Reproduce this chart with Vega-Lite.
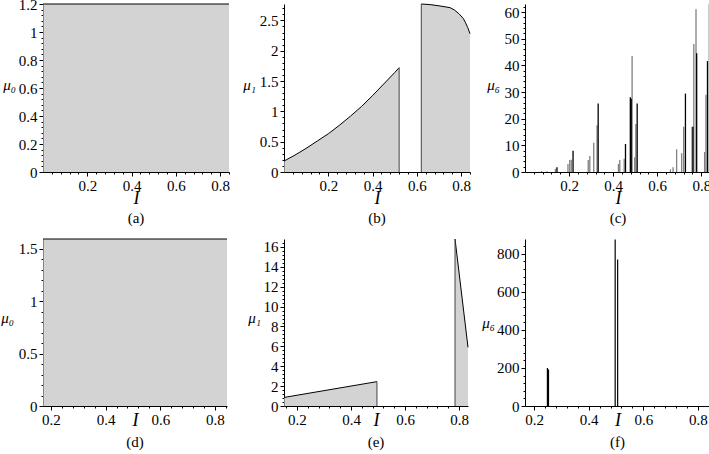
{
  "$schema": "https://vega.github.io/schema/vega-lite/v6.json",
  "background": "white",
  "padding": {"top": -3, "left": 0, "right": 0, "bottom": 0},
  "bounds": "flush",
  "columns": 3,
  "spacing": {"row": 67, "column": 55},
  "config": {
    "view": {"stroke": null},
    "axis": {"labelFont": "Liberation Serif", "labelFontSize": 15, "labelColor": "black", "domainColor": "black", "tickColor": "black", "grid": false, "titleFont": "Liberation Serif", "titleColor": "black", "titleFontWeight": "normal", "domainWidth": 1, "tickWidth": 1, "labelPadding": 2, "labelFlush": false, "labelOverlap": false},
    "title": {"font": "Liberation Serif", "fontSize": 15, "fontWeight": "normal", "color": "black", "orient": "bottom", "anchor": "middle", "offset": 0}
  },
  "datasets": {
    "a": [{"I": 0, "mu": 1.2}, {"I": 0.84, "mu": 1.2}],
    "bTop": [
      {"I": 0, "mu": 0.18, "seg": "L"}, {"I": 0.05, "mu": 0.28, "seg": "L"}, {"I": 0.1, "mu": 0.39, "seg": "L"}, {"I": 0.15, "mu": 0.51, "seg": "L"}, {"I": 0.2, "mu": 0.63, "seg": "L"}, {"I": 0.25, "mu": 0.77, "seg": "L"}, {"I": 0.3, "mu": 0.92, "seg": "L"}, {"I": 0.35, "mu": 1.08, "seg": "L"}, {"I": 0.4, "mu": 1.26, "seg": "L"}, {"I": 0.45, "mu": 1.45, "seg": "L"}, {"I": 0.5, "mu": 1.64, "seg": "L"}, {"I": 0.52, "mu": 1.72, "seg": "L"},
      {"I": 0.62, "mu": 2.77, "seg": "R"}, {"I": 0.66, "mu": 2.76, "seg": "R"}, {"I": 0.7, "mu": 2.74, "seg": "R"}, {"I": 0.75, "mu": 2.71, "seg": "R"}, {"I": 0.77, "mu": 2.67, "seg": "R"}, {"I": 0.79, "mu": 2.61, "seg": "R"}, {"I": 0.81, "mu": 2.53, "seg": "R"}, {"I": 0.82, "mu": 2.46, "seg": "R"}, {"I": 0.83, "mu": 2.38, "seg": "R"}, {"I": 0.84, "mu": 2.28, "seg": "R"}
    ],
    "bEdge": [{"I": 0.52, "mu": 1.72}, {"I": 0.62, "mu": 2.77}],
    "c": [
      {"I": 0.075, "mu": 0.4, "c": "g"}, {"I": 0.1, "mu": 0.3, "c": "g"}, {"I": 0.138, "mu": 1.2, "c": "g"}, {"I": 0.195, "mu": 3.0, "c": "g"}, {"I": 0.203, "mu": 4.5, "c": "g"}, {"I": 0.21, "mu": 4.6, "c": "g"},
      {"I": 0.287, "mu": 4.5, "c": "g"}, {"I": 0.294, "mu": 6.0, "c": "g"}, {"I": 0.312, "mu": 11.0, "c": "g"}, {"I": 0.327, "mu": 17.5, "c": "g"}, {"I": 0.424, "mu": 3.0, "c": "g"}, {"I": 0.43, "mu": 4.5, "c": "g"}, {"I": 0.45, "mu": 5.0, "c": "g"},
      {"I": 0.486, "mu": 43.5, "c": "g"}, {"I": 0.498, "mu": 5.5, "c": "g"}, {"I": 0.503, "mu": 18.0, "c": "g"}, {"I": 0.66, "mu": 1.0, "c": "g"}, {"I": 0.672, "mu": 1.8, "c": "g"}, {"I": 0.688, "mu": 8.5, "c": "g"},
      {"I": 0.711, "mu": 7.0, "c": "g"}, {"I": 0.72, "mu": 17.0, "c": "g"}, {"I": 0.758, "mu": 17.0, "c": "g"}, {"I": 0.766, "mu": 48.0, "c": "g"}, {"I": 0.776, "mu": 61.0, "c": "g"}, {"I": 0.815, "mu": 7.5, "c": "g"}, {"I": 0.821, "mu": 29.0, "c": "g"}, {"I": 0.836, "mu": 63.0, "c": "g"},
      {"I": 0.145, "mu": 1.8, "c": "k"}, {"I": 0.218, "mu": 8.0, "c": "k"}, {"I": 0.332, "mu": 25.7, "c": "k"}, {"I": 0.456, "mu": 10.5, "c": "k"}, {"I": 0.478, "mu": 28.0, "c": "k"}, {"I": 0.482, "mu": 27.5, "c": "k"}, {"I": 0.509, "mu": 25.7, "c": "k"},
      {"I": 0.728, "mu": 29.4, "c": "k"}, {"I": 0.762, "mu": 17.0, "c": "k"}, {"I": 0.779, "mu": 44.5, "c": "k"}, {"I": 0.828, "mu": 41.6, "c": "k"}, {"I": 0.842, "mu": 55.0, "c": "k"}
    ],
    "d": [{"I": 0.171, "mu": 1.595}, {"I": 0.844, "mu": 1.595}],
    "eTop": [{"I": 0.152, "mu": 0.86, "seg": "L"}, {"I": 0.496, "mu": 2.45, "seg": "L"}, {"I": 0.785, "mu": 16.8, "seg": "R"}, {"I": 0.833, "mu": 5.9, "seg": "R"}],
    "eEdge": [{"I": 0.496, "mu": 2.45}, {"I": 0.785, "mu": 16.8}],
    "f": [{"I": 0.249, "mu": 200}, {"I": 0.251, "mu": 195}, {"I": 0.253, "mu": 190}, {"I": 0.497, "mu": 875}, {"I": 0.506, "mu": 770}]
  },
  "concat": [
    {
      "width": 186, "height": 168,
      "title": {"text": "(a)"},
      "data": {"name": "a"},
      "mark": {"type": "area", "color": "#c0c0c0", "line": {"color": "black", "strokeWidth": 1}},
      "encoding": {
        "x": {"field": "I", "type": "quantitative", "scale": {"domain": [0, 0.84], "nice": false, "zero": false},
              "axis": {"values": [0.04, 0.08, 0.12, 0.16, 0.2, 0.24, 0.28, 0.32, 0.36, 0.4, 0.44, 0.48, 0.52, 0.56, 0.6, 0.64, 0.68, 0.72, 0.76, 0.8, 0.84], "labelExpr": "abs(datum.value/0.2 - round(datum.value/0.2)) < 0.001 ? format(datum.value, '~g') : ''", "tickSize": {"condition": {"test": "abs(datum.value/0.2 - round(datum.value/0.2)) < 0.001", "value": 4}, "value": 2}, "title": "I", "titleFontStyle": "italic", "titleFontSize": 18, "titleY": 31, "titleBaseline": "alphabetic"}},
        "y": {"field": "mu", "type": "quantitative", "scale": {"domain": [0, 1.2], "nice": false},
              "axis": {"values": [0, 0.04, 0.08, 0.12, 0.16, 0.2, 0.24, 0.28, 0.32, 0.36, 0.4, 0.44, 0.48, 0.52, 0.56, 0.6, 0.64, 0.68, 0.72, 0.76, 0.8, 0.84, 0.88, 0.92, 0.96, 1, 1.04, 1.08, 1.12, 1.16, 1.2], "labelExpr": "abs(datum.value/0.2 - round(datum.value/0.2)) < 0.001 ? format(datum.value, '~g') : ''", "tickSize": {"condition": {"test": "abs(datum.value/0.2 - round(datum.value/0.2)) < 0.001", "value": 4}, "value": 2}, "title": "μ₀", "titleAngle": 0, "titleX": -34, "titleY": 80, "titleAlign": "center", "titleBaseline": "middle", "titleFontSize": 15, "titleFontStyle": "italic"}}
      }
    },
    {
      "width": 186, "height": 168,
      "title": {"text": "(b)"},
      "encoding": {
        "x": {"field": "I", "type": "quantitative", "scale": {"domain": [0, 0.84], "nice": false, "zero": false},
              "axis": {"values": [0.04, 0.08, 0.12, 0.16, 0.2, 0.24, 0.28, 0.32, 0.36, 0.4, 0.44, 0.48, 0.52, 0.56, 0.6, 0.64, 0.68, 0.72, 0.76, 0.8, 0.84], "labelExpr": "abs(datum.value/0.2 - round(datum.value/0.2)) < 0.001 ? format(datum.value, '~g') : ''", "tickSize": {"condition": {"test": "abs(datum.value/0.2 - round(datum.value/0.2)) < 0.001", "value": 4}, "value": 2}, "title": "I", "titleFontStyle": "italic", "titleFontSize": 18, "titleY": 31, "titleBaseline": "alphabetic"}},
        "y": {"field": "mu", "type": "quantitative", "stack": null, "scale": {"domain": [0, 2.77], "nice": false},
              "axis": {"values": [0, 0.1, 0.2, 0.3, 0.4, 0.5, 0.6, 0.7, 0.8, 0.9, 1, 1.1, 1.2, 1.3, 1.4, 1.5, 1.6, 1.7, 1.8, 1.9, 2, 2.1, 2.2, 2.3, 2.4, 2.5, 2.6, 2.7], "labelExpr": "abs(datum.value/0.5 - round(datum.value/0.5)) < 0.001 ? format(datum.value, '~g') : ''", "tickSize": {"condition": {"test": "abs(datum.value/0.5 - round(datum.value/0.5)) < 0.001", "value": 4}, "value": 2}, "title": "μ₁", "titleAngle": 0, "titleX": -35, "titleY": 80, "titleAlign": "center", "titleBaseline": "middle", "titleFontSize": 15, "titleFontStyle": "italic"}}
      },
      "layer": [
        {"data": {"name": "bTop"},
         "mark": {"type": "area", "color": "#c0c0c0", "line": {"color": "black", "strokeWidth": 1}},
         "encoding": {"detail": {"field": "seg"}}},
        {"data": {"name": "bEdge"},
         "mark": {"type": "rule", "color": "#444444", "strokeWidth": 1},
         "encoding": {"y2": {"datum": 0}}}
      ]
    },
    {
      "width": 186, "height": 168,
      "title": {"text": "(c)"},
      "data": {"name": "c"},
      "mark": {"type": "rule", "strokeWidth": 1.3},
      "encoding": {
        "x": {"field": "I", "type": "quantitative", "scale": {"domain": [0, 0.844], "nice": false, "zero": false},
              "axis": {"values": [0.04, 0.08, 0.12, 0.16, 0.2, 0.24, 0.28, 0.32, 0.36, 0.4, 0.44, 0.48, 0.52, 0.56, 0.6, 0.64, 0.68, 0.72, 0.76, 0.8, 0.84], "labelExpr": "abs(datum.value/0.2 - round(datum.value/0.2)) < 0.001 ? format(datum.value, '~g') : ''", "tickSize": {"condition": {"test": "abs(datum.value/0.2 - round(datum.value/0.2)) < 0.001", "value": 4}, "value": 2}, "title": "I", "titleFontStyle": "italic", "titleFontSize": 18, "titleY": 31, "titleBaseline": "alphabetic"}},
        "y": {"field": "mu", "type": "quantitative", "scale": {"domain": [0, 63], "nice": false},
              "axis": {"values": [0, 2, 4, 6, 8, 10, 12, 14, 16, 18, 20, 22, 24, 26, 28, 30, 32, 34, 36, 38, 40, 42, 44, 46, 48, 50, 52, 54, 56, 58, 60, 62], "labelExpr": "datum.value % 10 == 0 ? format(datum.value, 'd') : ''", "tickSize": {"condition": {"test": "datum.value % 10 == 0", "value": 4}, "value": 2}, "title": "μ₆", "titleAngle": 0, "titleX": -32, "titleY": 80, "titleAlign": "center", "titleBaseline": "middle", "titleFontSize": 15, "titleFontStyle": "italic"}},
        "y2": {"datum": 0},
        "color": {"field": "c", "type": "nominal", "scale": {"domain": ["g", "k"], "range": ["#808080", "#000000"]}, "legend": null}
      }
    },
    {
      "width": 184, "height": 167,
      "title": {"text": "(d)", "offset": 6},
      "data": {"name": "d"},
      "mark": {"type": "area", "color": "#c0c0c0", "line": {"color": "black", "strokeWidth": 1}},
      "encoding": {
        "x": {"field": "I", "type": "quantitative", "scale": {"domain": [0.171, 0.844], "nice": false, "zero": false},
              "axis": {"values": [0.2, 0.24, 0.28, 0.32, 0.36, 0.4, 0.44, 0.48, 0.52, 0.56, 0.6, 0.64, 0.68, 0.72, 0.76, 0.8, 0.84], "labelExpr": "abs(datum.value/0.2 - round(datum.value/0.2)) < 0.001 ? format(datum.value, '~g') : ''", "tickSize": {"condition": {"test": "abs(datum.value/0.2 - round(datum.value/0.2)) < 0.001", "value": 4}, "value": 2}, "title": "I", "titleFontStyle": "italic", "titleFontSize": 18, "titleY": 19, "titleBaseline": "alphabetic"}},
        "y": {"field": "mu", "type": "quantitative", "scale": {"domain": [0, 1.595], "nice": false},
              "axis": {"values": [0, 0.1, 0.2, 0.3, 0.4, 0.5, 0.6, 0.7, 0.8, 0.9, 1, 1.1, 1.2, 1.3, 1.4, 1.5], "labelExpr": "abs(datum.value/0.5 - round(datum.value/0.5)) < 0.001 ? format(datum.value, '~g') : ''", "tickSize": {"condition": {"test": "abs(datum.value/0.5 - round(datum.value/0.5)) < 0.001", "value": 4}, "value": 2}, "title": "μ₀", "titleAngle": 0, "titleX": -36, "titleY": 78, "titleAlign": "center", "titleBaseline": "middle", "titleFontSize": 15, "titleFontStyle": "italic"}}
      }
    },
    {
      "width": 184, "height": 167,
      "title": {"text": "(e)", "offset": 6},
      "encoding": {
        "x": {"field": "I", "type": "quantitative", "scale": {"domain": [0.152, 0.833], "nice": false, "zero": false},
              "axis": {"values": [0.16, 0.2, 0.24, 0.28, 0.32, 0.36, 0.4, 0.44, 0.48, 0.52, 0.56, 0.6, 0.64, 0.68, 0.72, 0.76, 0.8], "labelExpr": "abs(datum.value/0.2 - round(datum.value/0.2)) < 0.001 ? format(datum.value, '~g') : ''", "tickSize": {"condition": {"test": "abs(datum.value/0.2 - round(datum.value/0.2)) < 0.001", "value": 4}, "value": 2}, "title": "I", "titleFontStyle": "italic", "titleFontSize": 18, "titleY": 19, "titleBaseline": "alphabetic"}},
        "y": {"field": "mu", "type": "quantitative", "stack": null, "scale": {"domain": [0, 16.8], "nice": false},
              "axis": {"values": [0, 0.4, 0.8, 1.2, 1.6, 2, 2.4, 2.8, 3.2, 3.6, 4, 4.4, 4.8, 5.2, 5.6, 6, 6.4, 6.8, 7.2, 7.6, 8, 8.4, 8.8, 9.2, 9.6, 10, 10.4, 10.8, 11.2, 11.6, 12, 12.4, 12.8, 13.2, 13.6, 14, 14.4, 14.8, 15.2, 15.6, 16, 16.4], "labelExpr": "abs(datum.value/2 - round(datum.value/2)) < 0.001 ? format(datum.value, 'd') : ''", "tickSize": {"condition": {"test": "abs(datum.value/2 - round(datum.value/2)) < 0.001", "value": 4}, "value": 2}, "title": "μ₁", "titleAngle": 0, "titleX": -30, "titleY": 78, "titleAlign": "center", "titleBaseline": "middle", "titleFontSize": 15, "titleFontStyle": "italic"}}
      },
      "layer": [
        {"data": {"name": "eTop"},
         "mark": {"type": "area", "color": "#c0c0c0", "line": {"color": "black", "strokeWidth": 1}},
         "encoding": {"detail": {"field": "seg"}}},
        {"data": {"name": "eEdge"},
         "mark": {"type": "rule", "color": "#444444", "strokeWidth": 1},
         "encoding": {"y2": {"datum": 0}}}
      ]
    },
    {
      "width": 185, "height": 167,
      "title": {"text": "(f)", "offset": 6},
      "data": {"name": "f"},
      "mark": {"type": "rule", "strokeWidth": 1.2, "color": "black"},
      "encoding": {
        "x": {"field": "I", "type": "quantitative", "scale": {"domain": [0.167, 0.844], "nice": false, "zero": false},
              "axis": {"values": [0.2, 0.24, 0.28, 0.32, 0.36, 0.4, 0.44, 0.48, 0.52, 0.56, 0.6, 0.64, 0.68, 0.72, 0.76, 0.8, 0.84], "labelExpr": "abs(datum.value/0.2 - round(datum.value/0.2)) < 0.001 ? format(datum.value, '~g') : ''", "tickSize": {"condition": {"test": "abs(datum.value/0.2 - round(datum.value/0.2)) < 0.001", "value": 4}, "value": 2}, "title": "I", "titleFontStyle": "italic", "titleFontSize": 18, "titleY": 19, "titleBaseline": "alphabetic"}},
        "y": {"field": "mu", "type": "quantitative", "scale": {"domain": [0, 878], "nice": false},
              "axis": {"values": [0, 40, 80, 120, 160, 200, 240, 280, 320, 360, 400, 440, 480, 520, 560, 600, 640, 680, 720, 760, 800, 840], "labelExpr": "datum.value % 200 == 0 ? format(datum.value, 'd') : ''", "tickSize": {"condition": {"test": "datum.value % 200 == 0", "value": 4}, "value": 2}, "title": "μ₆", "titleAngle": 0, "titleX": -37, "titleY": 83, "titleAlign": "center", "titleBaseline": "middle", "titleFontSize": 15, "titleFontStyle": "italic"}},
        "y2": {"datum": 0}
      }
    }
  ]
}
